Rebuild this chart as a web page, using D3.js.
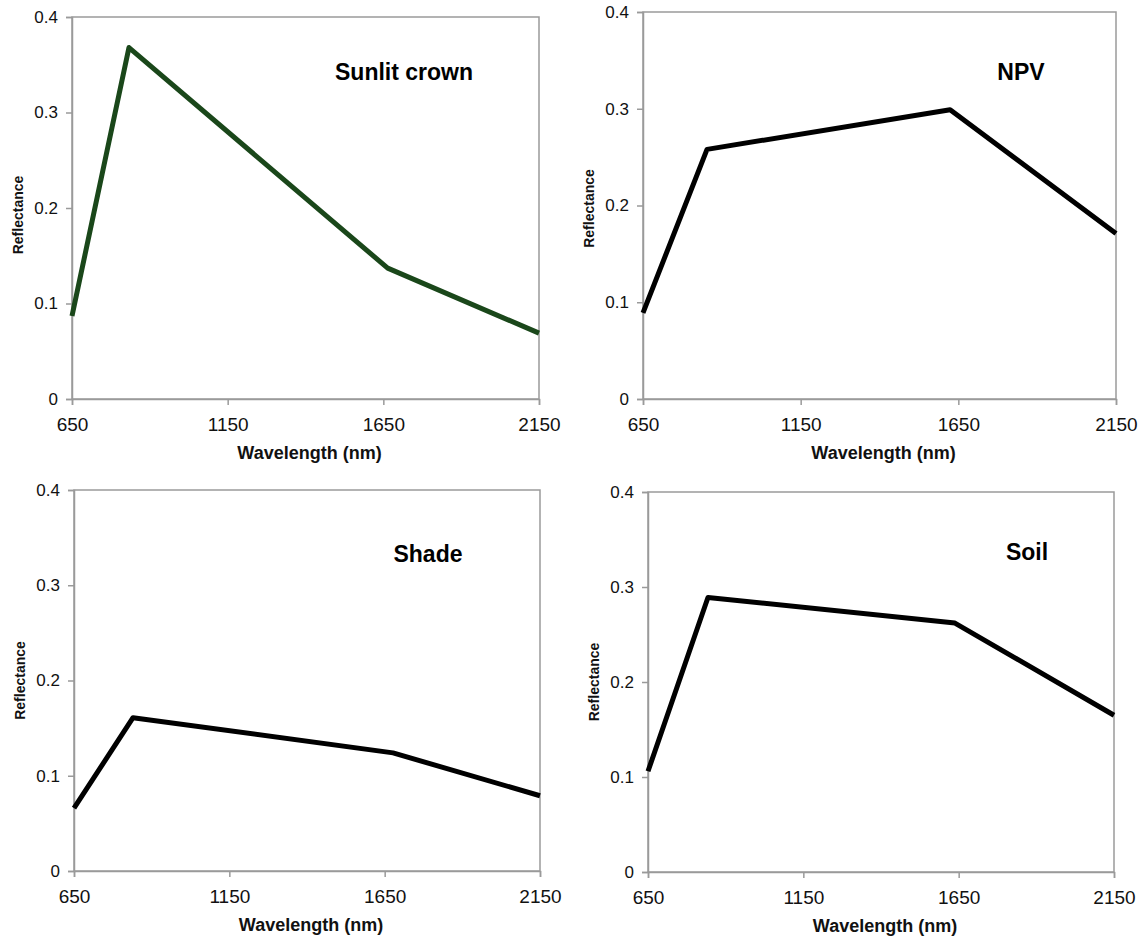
<!DOCTYPE html>
<html>
<head>
<meta charset="utf-8">
<script src="https://cdn.jsdelivr.net/npm/d3@7"></script>
<style>
  html, body { margin: 0; padding: 0; background: #fff; }
  svg { display: block; font-family: "Liberation Sans", Arial, sans-serif; }
</style>
</head>
<body>
<svg id="chart" width="1143" height="941"></svg>
<script>
// ---- Data ----
const panelNames = ["Sunlit crown", "NPV", "Shade", "Soil"];
const sunlitWavelength = [650, 833, 1664, 2150];
const sunlitReflectance = [0.087, 0.368, 0.137, 0.069];
const npvWavelength = [650, 853, 1624, 2150];
const npvReflectance = [0.089, 0.258, 0.299, 0.171];
const shadeWavelength = [650, 840, 1677, 2150];
const shadeReflectance = [0.066, 0.161, 0.124, 0.079];
const soilWavelength = [650, 843, 1638, 2150];
const soilReflectance = [0.106, 0.289, 0.262, 0.165];
const xTicks = [650, 1150, 1650, 2150];
const yTicks = [0, 0.1, 0.2, 0.3, 0.4];
const xTitle = "Wavelength (nm)";
const yTitle = "Reflectance";

// ---- Layout ----
const panels = [
  { name: panelNames[0], xs: sunlitWavelength, ys: sunlitReflectance, color: "#1a471a",
    left: 72, right: 539, top: 17, bottom: 399, labelX: 404, labelY: 80, yTitleShift: 7 },
  { name: panelNames[1], xs: npvWavelength, ys: npvReflectance, color: "#000",
    left: 643, right: 1116, top: 12, bottom: 399, labelX: 1021, labelY: 80, yTitleShift: 3 },
  { name: panelNames[2], xs: shadeWavelength, ys: shadeReflectance, color: "#000",
    left: 74, right: 540, top: 490, bottom: 871, labelX: 428, labelY: 562, yTitleShift: 0 },
  { name: panelNames[3], xs: soilWavelength, ys: soilReflectance, color: "#000",
    left: 648, right: 1114, top: 492, bottom: 872, labelX: 1027, labelY: 560, yTitleShift: 0 }
];

const svg = d3.select("#chart");
const gray = "#9a9a9a";

panels.forEach(p => {
  const x = d3.scaleLinear().domain([650, 2150]).range([p.left, p.right]);
  const y = d3.scaleLinear().domain([0, 0.4]).range([p.bottom, p.top]);
  const g = svg.append("g");

  // frame
  g.append("rect")
    .attr("x", p.left).attr("y", p.top)
    .attr("width", p.right - p.left).attr("height", p.bottom - p.top)
    .attr("fill", "none").attr("stroke", gray).attr("stroke-width", 1.5);

  const xAxis = d3.axisBottom(x).tickValues(xTicks).tickSize(6).tickPadding(13)
    .tickFormat(d3.format("d"));
  const yAxis = d3.axisLeft(y).tickValues(yTicks).tickSize(6).tickPadding(8)
    .tickFormat(d => d === 0 ? "0" : d3.format(".1f")(d));

  const gx = g.append("g").attr("transform", `translate(0,${p.bottom})`).call(xAxis);
  const gy = g.append("g").attr("transform", `translate(${p.left},0)`).call(yAxis);
  [gx, gy].forEach(a => {
    a.select(".domain").attr("stroke", gray).attr("stroke-width", 1.5);
    a.selectAll(".tick line").attr("stroke", gray).attr("stroke-width", 1.5);
    a.selectAll(".tick text").attr("fill", "#111")
      .style("font-family", "'Liberation Sans', Arial, sans-serif");
  });
  gx.selectAll(".tick text").style("font-size", "19px");
  gy.selectAll(".tick text").style("font-size", "17px");

  // axis titles
  g.append("text")
    .attr("x", (p.left + p.right) / 2 + 4).attr("y", p.bottom + 60)
    .attr("text-anchor", "middle").attr("font-weight", "bold").attr("font-size", 18)
    .attr("fill", "#111").text(xTitle);
  g.append("text")
    .attr("transform", `translate(${p.left - 49},${(p.top + p.bottom) / 2 + p.yTitleShift}) rotate(-90)`)
    .attr("text-anchor", "middle").attr("font-weight", "bold").attr("font-size", 14)
    .attr("fill", "#111").text(yTitle);

  // line
  const data = p.xs.map((v, i) => ({ w: v, r: p.ys[i] }));
  g.append("path").datum(data)
    .attr("fill", "none").attr("stroke", p.color).attr("stroke-width", 5)
    .attr("stroke-linejoin", "round")
    .attr("d", d3.line().x(d => x(d.w)).y(d => y(d.r)));

  // panel label
  g.append("text")
    .attr("x", p.labelX).attr("y", p.labelY)
    .attr("text-anchor", "middle").attr("font-weight", "bold").attr("font-size", 23)
    .attr("fill", "#000").text(p.name);
});
</script>
</body>
</html>
